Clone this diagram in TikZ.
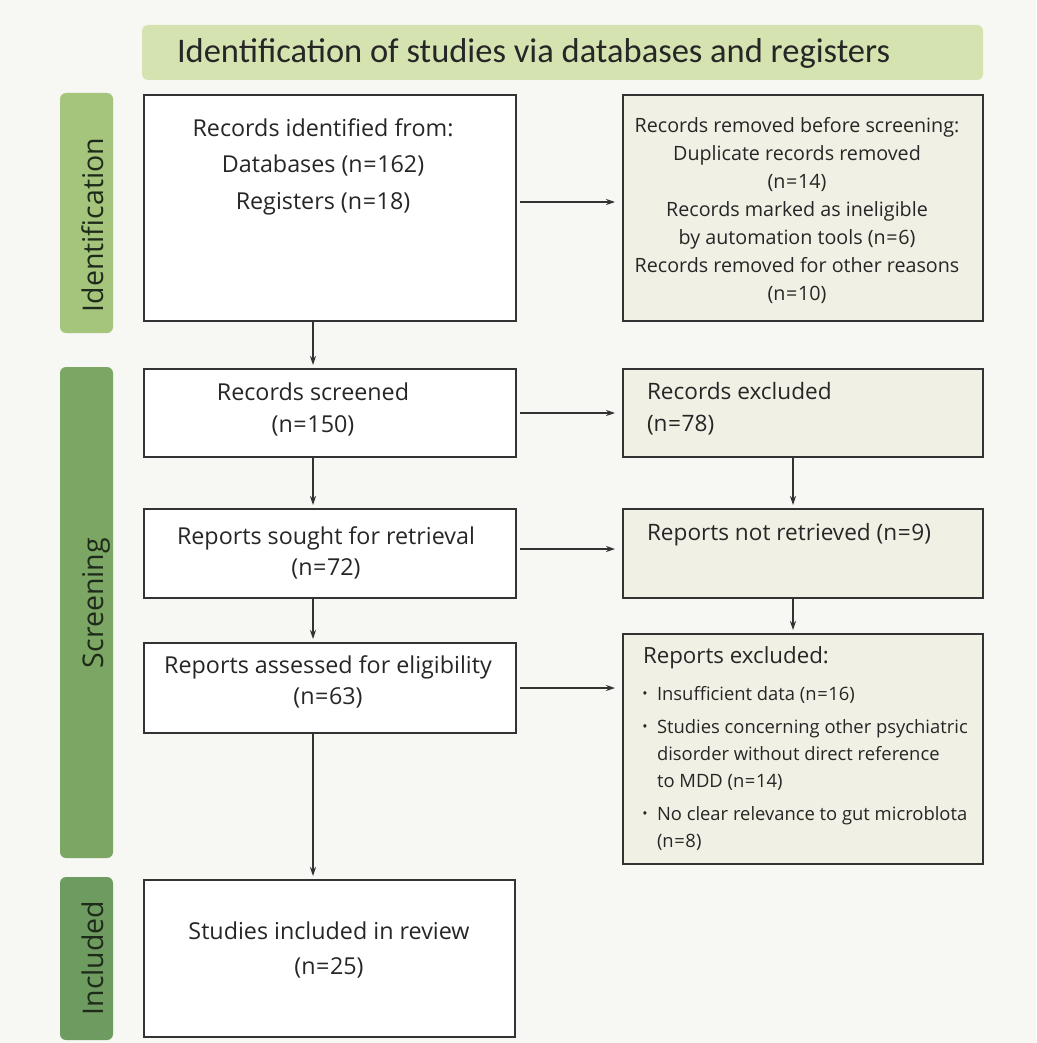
\documentclass[tikz,border=0pt]{standalone}
\usepackage{fontspec}
\setmainfont{Open Sans}
\newfontfamily\headfont{Carlito}
\usetikzlibrary{arrows.meta,calc}
\definecolor{bgc}{HTML}{F7F7F4}
\definecolor{headc}{HTML}{D5E3B1}
\definecolor{idc}{HTML}{A5C47C}
\definecolor{scrc}{HTML}{7BA663}
\definecolor{incc}{HTML}{6E9B5F}
\definecolor{rfill}{HTML}{F0F0E4}
\definecolor{edgec}{HTML}{333333}
\definecolor{labc}{HTML}{1F2B1A}
\newcommand\fmid{\fontsize{19.7}{28}\selectfont}
\newcommand\fsml{\fontsize{18.4}{27}\selectfont}
\newcommand\eq{\kern0.6pt=\kern0.6pt}
\begin{document}
\begin{tikzpicture}[x=1pt,y=-1pt,
  lbox/.style={draw=edgec, line width=1.8pt, fill=white, inner sep=0pt, outer sep=0pt, anchor=north west},
  rbox/.style={draw=edgec, line width=1.8pt, fill=rfill, inner sep=0pt, outer sep=0pt, anchor=north west},
  bar/.style={rounded corners=6pt, inner sep=0pt, outer sep=0pt, anchor=north west},
  sidelab/.style={rotate=90, anchor=base, inner sep=0pt, text=labc, font=\fontsize{28.5}{30}\selectfont},
  txt/.style={inner sep=0pt, outer sep=0pt, text=black!85},
  arr/.style={draw=black!80, line width=1.3pt, -{Stealth[length=9pt,width=6pt]}}
]
\fill[bgc] (0,0) rectangle (1036,1043);
\useasboundingbox (0,0) rectangle (1036,1043);

% header
\node[bar, fill=headc, minimum width=841pt, minimum height=55pt] (head) at (142,25) {};
\node[txt, anchor=west, font=\headfont\fontsize{34.5}{36}\selectfont] (headtxt) at (177,53) {Identification of studies via databases and registers};

% side bars
\node[bar, fill=idc, minimum width=53pt, minimum height=240pt] (idbar) at (60,93) {};
\node[bar, fill=scrc, minimum width=53pt, minimum height=491pt] (scrbar) at (60,367) {};
\node[bar, fill=incc, minimum width=53pt, minimum height=163pt] (incbar) at (60,877) {};
\node[sidelab] (idlab) at (103,225) {Identification};
\node[sidelab] (scrlab) at (103,603) {Screening};
\node[sidelab] (inclab) at (103,958) {Included};

% left boxes
\node[lbox, minimum width=372pt, minimum height=226pt] (id) at (144,95) {};
\node[lbox, minimum width=372pt, minimum height=88pt] (scr) at (144,369) {};
\node[lbox, minimum width=372pt, minimum height=89pt] (sought) at (144,509) {};
\node[lbox, minimum width=372pt, minimum height=90pt] (assess) at (144,643) {};
\node[lbox, minimum width=371pt, minimum height=157pt] (incl) at (144,880) {};

% right boxes
\node[rbox, minimum width=360pt, minimum height=226pt] (rem) at (623,95) {};
\node[rbox, minimum width=360pt, minimum height=88pt] (exc) at (623,369) {};
\node[rbox, minimum width=360pt, minimum height=89pt] (notret) at (623,509) {};
\node[rbox, minimum width=360pt, minimum height=230pt] (repexc) at (623,634) {};

% texts left
\node[txt, align=center, font=\fontsize{23.3}{36.5}\selectfont] (idtxt) at (323,166.5) {Records identified from:\\Databases (n\eq162)\\Registers (n\eq18)};
\node[txt, align=center, font=\fontsize{23.3}{32}\selectfont] (scrtxt) at (313,409) {Records screened\\(n\eq150)};
\node[txt, align=center, font=\fontsize{23.3}{31}\selectfont] (soughttxt) at (326,552.5) {Reports sought for retrieval\\(n\eq72)};
\node[txt, align=center, font=\fontsize{23.3}{31}\selectfont] (assesstxt) at (328,681.5) {Reports assessed for eligibility\\(n\eq63)};
\node[txt, align=center, font=\fontsize{23.3}{35}\selectfont] (incltxt) at (329,949.5) {Studies included in review\\(n\eq25)};

% texts right
\node[txt, align=center, font=\fmid] (remtxt) at (797,211) {Records removed before screening:\\Duplicate records removed\\(n\eq14)\\Records marked as ineligible\\by automation tools (n\eq6)\\Records removed for other reasons\\(n\eq10)};
\node[txt, align=left, anchor=west, font=\fontsize{22.6}{32}\selectfont] (exctxt) at (647,409) {Records excluded\\(n\eq78)};
\node[txt, anchor=west, font=\fontsize{22.6}{32}\selectfont] (notrettxt) at (647,535) {Reports not retrieved (n\eq9)};
\node[txt, anchor=west, font=\fontsize{22.3}{32}\selectfont] (repexctitle) at (643,658) {Reports excluded:};
\node[txt, anchor=center, font=\fontsize{14}{16}\selectfont] (b1) at (645,695) {•};
\node[txt, anchor=center, font=\fontsize{14}{16}\selectfont] (b2) at (645,728) {•};
\node[txt, anchor=center, font=\fontsize{14}{16}\selectfont] (b3) at (645,815) {•};
\node[txt, anchor=west, font=\fsml] (r1) at (657,695) {Insufficient data (n\eq16)};
\node[txt, anchor=west, align=left, font=\fsml] (r2) at (657,755) {Studies concerning other psychiatric\\disorder without direct reference\\to MDD (n\eq14)};
\node[txt, anchor=west, align=left, font=\fsml] (r3) at (657,828.5) {No clear relevance to gut microblota\\(n\eq8)};

% horizontal arrows
\draw[arr] ([xshift=4pt,yshift=6pt]id.east) -- ([xshift=-8pt,yshift=6pt]id.east -| rem.west);
\draw[arr] ([xshift=4pt]scr.east) -- ([xshift=-8pt]scr.east -| exc.west);
\draw[arr] ([xshift=4pt,yshift=4.5pt]sought.east) -- ([xshift=-8pt,yshift=4.5pt]sought.east -| notret.west);
\draw[arr] ([xshift=4pt]assess.east) -- ([xshift=-8pt]assess.east -| repexc.west);

% vertical arrows left
\draw[arr] ([xshift=-17pt]id.south) -- ([xshift=-17pt,yshift=4pt]id.south |- scr.north);
\draw[arr] ([xshift=-17pt]scr.south) -- ([xshift=-17pt,yshift=4pt]scr.south |- sought.north);
\draw[arr] ([xshift=-17pt]sought.south) -- ([xshift=-17pt,yshift=4pt]sought.south |- assess.north);
\draw[arr] ([xshift=-17pt]assess.south) -- ([xshift=-17pt,yshift=4pt]assess.south |- incl.north);
% vertical arrows right
\draw[arr] ([xshift=-10pt]exc.south) -- ([xshift=-10pt,yshift=4pt]exc.south |- notret.north);
\draw[arr] ([xshift=-10pt]notret.south) -- ([xshift=-10pt,yshift=4pt]notret.south |- repexc.north);
\end{tikzpicture}
\end{document}
